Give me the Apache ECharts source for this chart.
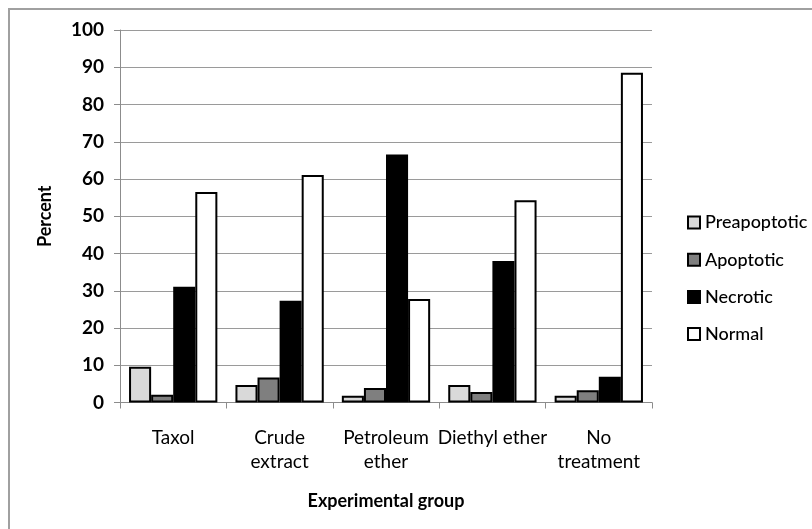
<!DOCTYPE html>
<html>
<head>
<meta charset="utf-8">
<script src="https://cdn.jsdelivr.net/npm/echarts@6/dist/echarts.min.js"></script>
<style>
html,body{margin:0;padding:0;background:#fff;}
#main{width:812px;height:529px;}
</style>
</head>
<body>
<div id="main"></div>
<script>
const categories = ['Taxol', 'Crude\nextract', 'Petroleum\nether', 'Diethyl ether', 'No\ntreatment'];
const preapoptotic = [9.6, 4.7, 1.8, 4.7, 1.8];
const apoptotic = [2.1, 6.7, 3.9, 2.8, 3.3];
const necrotic = [31.1, 27.3, 66.6, 38.0, 6.9];
const normal = [56.5, 61.1, 27.8, 54.3, 88.5];
const yTicks = [0, 10, 20, 30, 40, 50, 60, 70, 80, 90, 100];

const FONT = 'Lato';
const chart = echarts.init(document.getElementById('main'));
function bar(name, data, color) {
  return {
    name: name, type: 'bar', data: data,
    barGap: '0%', barCategoryGap: '17%',
    itemStyle: { color: color, borderColor: '#000', borderWidth: 2 }
  };
}
chart.setOption({
  backgroundColor: '#fff',
  animation: false,
  graphic: [{
    type: 'rect', shape: { x: 9, y: 9, width: 900, height: 700 },
    style: { fill: 'none', stroke: '#a0a0a0', lineWidth: 2 }, silent: true, z: -1
  }],
  grid: { left: 120, right: 160, top: 30, bottom: 126.5 },
  legend: {
    orient: 'vertical', left: 682, top: 208.5,
    itemWidth: 12, itemHeight: 12, itemGap: 19.2, icon: 'rect',
    textStyle: { fontFamily: FONT, fontSize: 18, lineHeight: 18, color: '#000', fontWeight: 500 },
    data: ['Preapoptotic', 'Apoptotic', 'Necrotic', 'Normal']
  },
  xAxis: {
    type: 'category', data: categories,
    name: 'Experimental group', nameLocation: 'middle', nameGap: 90,
    nameTextStyle: { fontFamily: FONT, fontSize: 18, fontWeight: 'bold', color: '#000' },
    axisLine: { lineStyle: { color: '#8c8c8c', width: 1 } },
    axisTick: { show: true, length: 6, lineStyle: { color: '#8c8c8c' } },
    axisLabel: { fontFamily: FONT, fontSize: 19, color: '#000', margin: 23, lineHeight: 24, interval: 0 }
  },
  yAxis: {
    type: 'value', min: 0, max: 100, interval: 10,
    name: 'Percent', nameLocation: 'middle', nameGap: 66, nameRotate: 90,
    nameTextStyle: { fontFamily: FONT, fontSize: 18, fontWeight: 'bold', color: '#000' },
    axisLine: { show: true, lineStyle: { color: '#8c8c8c', width: 1 } },
    axisTick: { show: true, length: 6, lineStyle: { color: '#8c8c8c' } },
    splitLine: { lineStyle: { color: '#9a9a9a', width: 1 } },
    axisLabel: {
      fontFamily: FONT, fontSize: 19, fontWeight: 'bold', color: '#000', margin: 16,
      formatter: function (v) { return yTicks.indexOf(v) >= 0 ? String(v) : ''; }
    }
  },
  series: [
    bar('Preapoptotic', preapoptotic, '#d9d9d9'),
    bar('Apoptotic', apoptotic, '#7f7f7f'),
    bar('Necrotic', necrotic, '#000000'),
    bar('Normal', normal, '#ffffff')
  ]
});
</script>
</body>
</html>
